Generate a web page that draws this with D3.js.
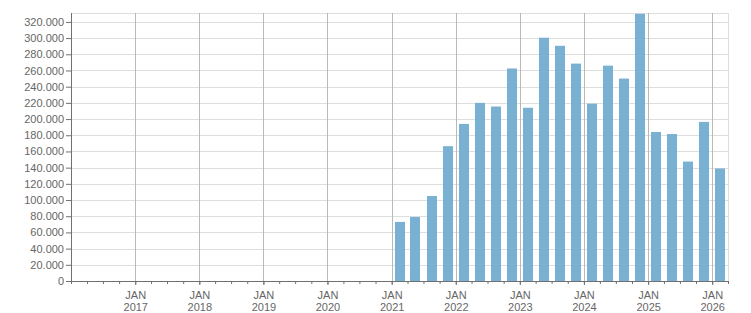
<!DOCTYPE html>
<html>
<head>
<meta charset="utf-8">
<script src="https://cdn.jsdelivr.net/npm/d3@7"></script>
<style>
  body { margin: 0; background: #fff; }
  text { font-family: "Liberation Sans", Arial, sans-serif; font-size: 11px; fill: #666; }
</style>
</head>
<body>
<div id="my_dataviz"></div>
<script>
// quarterly values, Q1 2021 .. Q1 2026
var quarters = ["2021-01","2021-04","2021-07","2021-10",
                "2022-01","2022-04","2022-07","2022-10",
                "2023-01","2023-04","2023-07","2023-10",
                "2024-01","2024-04","2024-07","2024-10",
                "2025-01","2025-04","2025-07","2025-10",
                "2026-01"];
var values = [73000, 79000, 105000, 166500,
              194000, 220000, 215500, 262500,
              214000, 300500, 290500, 268500,
              219000, 266000, 250000, 330000,
              184000, 181500, 147500, 196500,
              139000];
var yTicks = d3.range(0, 320001, 20000);
var yearTicks = d3.range(2017, 2027);

// set the dimensions and margins of the graph
var margin = {top: 13, right: 23, bottom: 32, left: 71},
    width_graph = 751 - margin.left - margin.right,
    height_graph = 313 - margin.top - margin.bottom;

var svg = d3.select("#my_dataviz")
  .append("svg")
    .attr("width", 751)
    .attr("height", 313)
  .append("g")
    .attr("transform", "translate(" + margin.left + "," + margin.top + ")");

var parse = d3.timeParse("%Y-%m");
var data = quarters.map(function(q, i) { return {date: parse(q), value: values[i]}; });

var x = d3.scaleTime()
  .domain([new Date(2016, 0, 1), new Date(2026, 3, 1)])
  .range([0, width_graph]);

var y = d3.scaleLinear()
  .domain([0, 331000])
  .range([height_graph, 0]);

var fmt = d3.formatLocale({decimal: ",", thousands: ".", grouping: [3], currency: ["", ""]}).format(",");

// horizontal grid
svg.append("g")
  .selectAll("line")
  .data(yTicks.concat([331000]))
  .join("line")
    .attr("x1", 0).attr("x2", width_graph)
    .attr("y1", function(d) { return Math.round(y(d)) + 0.5; })
    .attr("y2", function(d) { return Math.round(y(d)) + 0.5; })
    .attr("stroke", "#dedede");

// right frame line
svg.append("line")
  .attr("x1", width_graph + 0.5).attr("x2", width_graph + 0.5)
  .attr("y1", 0).attr("y2", height_graph)
  .attr("stroke", "#dedede");

// vertical grid at JAN
svg.append("g")
  .selectAll("line")
  .data(yearTicks)
  .join("line")
    .attr("x1", function(d) { return Math.round(x(new Date(d, 0, 1))) + 0.5; })
    .attr("x2", function(d) { return Math.round(x(new Date(d, 0, 1))) + 0.5; })
    .attr("y1", 0).attr("y2", height_graph)
    .attr("stroke", "#b9b9b9");

// bars
svg.append("g")
  .selectAll("rect")
  .data(data)
  .join("rect")
    .attr("x", function(d) {
      var x0 = x(d.date), x1 = x(d3.timeMonth.offset(d.date, 3));
      return Math.round((x0 + x1) / 2 - 5);
    })
    .attr("width", 10)
    .attr("y", function(d) { return y(d.value); })
    .attr("height", function(d) { return height_graph - y(d.value); })
    .attr("fill", "#78b1d2");

// Y axis
var yAxis = svg.append("g")
  .call(d3.axisLeft(y).tickValues(yTicks).tickFormat(fmt).tickSize(5).tickPadding(2));
yAxis.select(".domain").attr("stroke", "#707070").attr("d", "M0.5,0V" + height_graph);
yAxis.selectAll(".tick line").attr("stroke", "#707070");

// X axis, minor quarter ticks
var xMinor = svg.append("g")
  .attr("transform", "translate(0," + height_graph + ")")
  .call(d3.axisBottom(x).ticks(d3.timeMonth.every(3)).tickSize(3).tickFormat(""));
xMinor.select(".domain").attr("stroke", "#707070").attr("d", "M0," + 0.5 + "H" + width_graph);
xMinor.selectAll(".tick line").attr("stroke", "#707070");

// X axis, JAN ticks with labels
var xMajor = svg.append("g")
  .attr("transform", "translate(0," + height_graph + ")")
  .call(d3.axisBottom(x).tickValues(yearTicks.map(function(d) { return new Date(d, 0, 1); }))
    .tickSize(4).tickFormat(""));
xMajor.select(".domain").remove();
xMajor.selectAll(".tick line").attr("stroke", "#707070");
xMajor.selectAll(".tick").each(function(d) {
  var t = d3.select(this).append("text")
    .attr("text-anchor", "middle");
  t.append("tspan").attr("x", 0).attr("y", 18).text("JAN");
  t.append("tspan").attr("x", 0).attr("y", 30).text(d.getFullYear());
});
xMajor.selectAll("text").attr("fill", "#666").style("font-size", "11px");
yAxis.selectAll("text").attr("fill", "#666").style("font-size", "11px");
</script>
</body>
</html>
